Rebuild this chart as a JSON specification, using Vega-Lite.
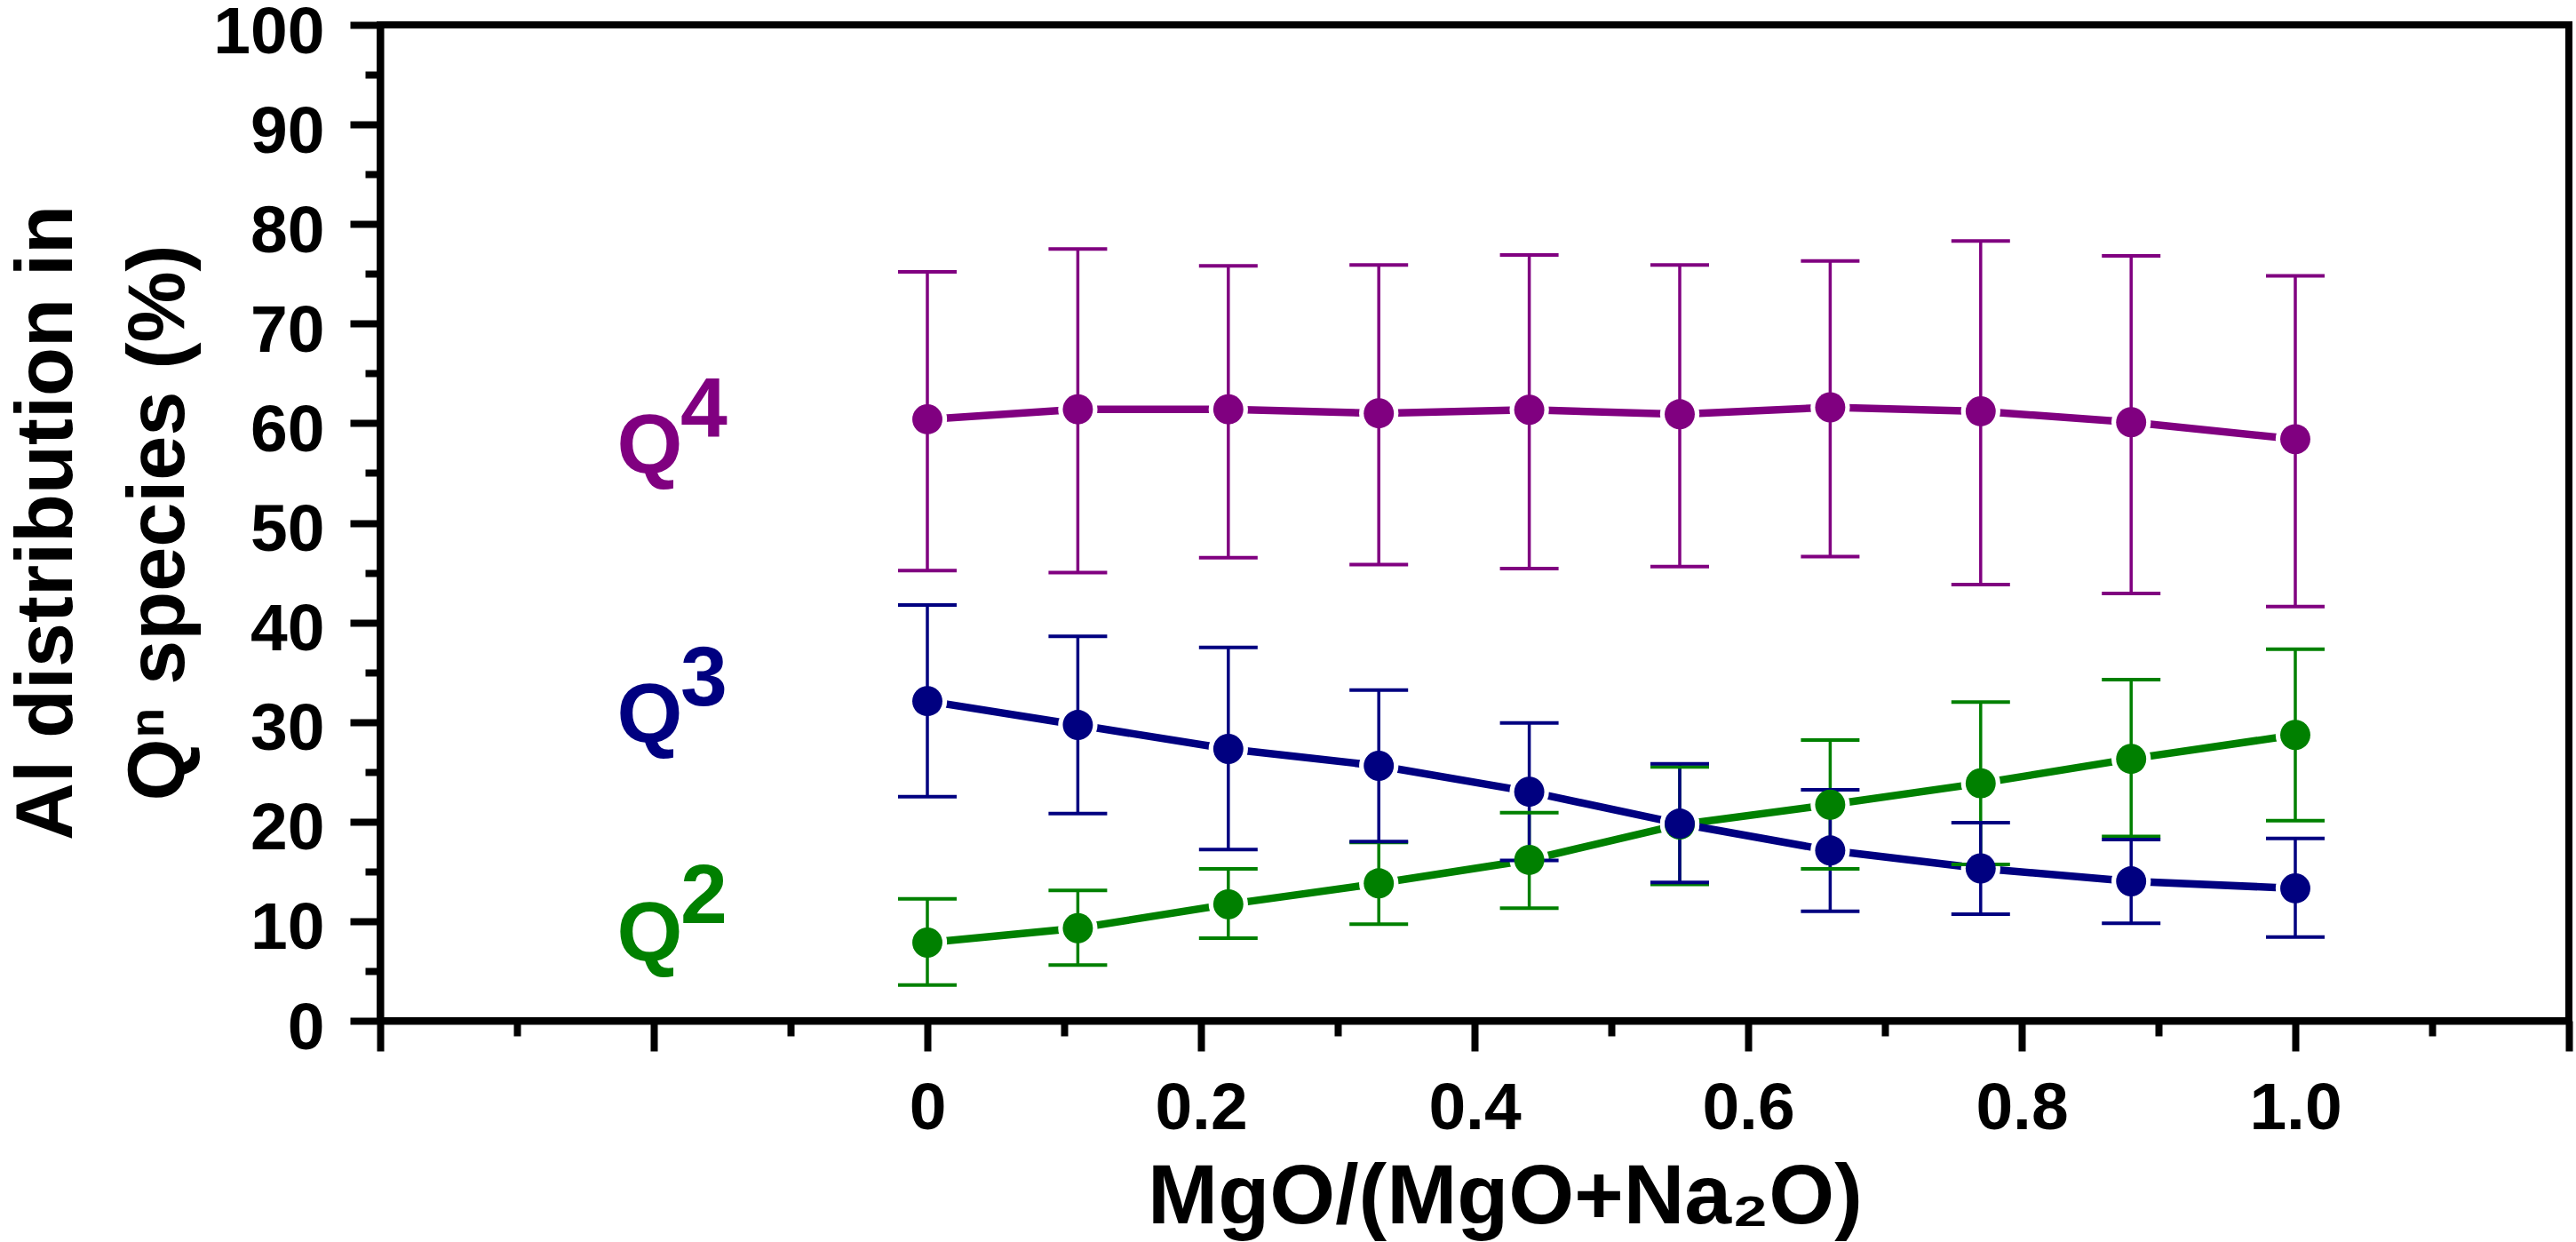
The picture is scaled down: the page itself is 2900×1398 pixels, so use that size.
{
  "$schema": "https://vega.github.io/schema/vega-lite/v6.json",
  "width": 2464,
  "height": 1121,
  "autosize": {"type": "none"},
  "padding": {"left": 428, "top": 28, "right": 8, "bottom": 249},
  "background": "white",
  "config": {
    "font": "Liberation Sans",
    "view": {"stroke": "black", "strokeWidth": 8},
    "axis": {
      "grid": false,
      "domainColor": "black",
      "domainWidth": 8,
      "tickColor": "black",
      "tickWidth": 8,
      "labelColor": "black",
      "labelFont": "Liberation Sans",
      "labelFontWeight": "bold",
      "labelFontSize": 75,
      "titleColor": "black",
      "titleFont": "Liberation Sans",
      "titleFontWeight": "bold"
    }
  },
  "datasets": {
    "pts": [
      {"s": "Q4", "x": 0, "y": 60.4, "lo": 45.2, "hi": 75.2},
      {"s": "Q4", "x": 0.11, "y": 61.4, "lo": 45.0, "hi": 77.5},
      {"s": "Q4", "x": 0.22, "y": 61.4, "lo": 46.5, "hi": 75.8},
      {"s": "Q4", "x": 0.33, "y": 61.0, "lo": 45.8, "hi": 75.9},
      {"s": "Q4", "x": 0.44, "y": 61.35, "lo": 45.4, "hi": 76.9},
      {"s": "Q4", "x": 0.55, "y": 60.9, "lo": 45.6, "hi": 75.9},
      {"s": "Q4", "x": 0.66, "y": 61.6, "lo": 46.6, "hi": 76.3},
      {"s": "Q4", "x": 0.77, "y": 61.2, "lo": 43.8, "hi": 78.3},
      {"s": "Q4", "x": 0.88, "y": 60.1, "lo": 42.9, "hi": 76.8},
      {"s": "Q4", "x": 1.0, "y": 58.4, "lo": 41.6, "hi": 74.8},
      {"s": "Q2", "x": 0, "y": 7.85, "lo": 3.6, "hi": 12.25},
      {"s": "Q2", "x": 0.11, "y": 9.3, "lo": 5.6, "hi": 13.1},
      {"s": "Q2", "x": 0.22, "y": 11.7, "lo": 8.3, "hi": 15.25},
      {"s": "Q2", "x": 0.33, "y": 13.8, "lo": 9.7, "hi": 17.9},
      {"s": "Q2", "x": 0.44, "y": 16.15, "lo": 11.3, "hi": 20.9},
      {"s": "Q2", "x": 0.55, "y": 19.7, "lo": 13.7, "hi": 25.5},
      {"s": "Q2", "x": 0.66, "y": 21.7, "lo": 15.25, "hi": 28.2},
      {"s": "Q2", "x": 0.77, "y": 23.85, "lo": 15.7, "hi": 32.0},
      {"s": "Q2", "x": 0.88, "y": 26.3, "lo": 18.5, "hi": 34.25},
      {"s": "Q2", "x": 1.0, "y": 28.7, "lo": 20.1, "hi": 37.3},
      {"s": "Q3", "x": 0, "y": 32.1, "lo": 22.5, "hi": 41.75},
      {"s": "Q3", "x": 0.11, "y": 29.7, "lo": 20.8, "hi": 38.6},
      {"s": "Q3", "x": 0.22, "y": 27.3, "lo": 17.2, "hi": 37.5},
      {"s": "Q3", "x": 0.33, "y": 25.6, "lo": 18.0, "hi": 33.2},
      {"s": "Q3", "x": 0.44, "y": 23.0, "lo": 16.1, "hi": 29.9},
      {"s": "Q3", "x": 0.55, "y": 19.8, "lo": 13.9, "hi": 25.8},
      {"s": "Q3", "x": 0.66, "y": 17.1, "lo": 11.0, "hi": 23.2},
      {"s": "Q3", "x": 0.77, "y": 15.3, "lo": 10.7, "hi": 19.9},
      {"s": "Q3", "x": 0.88, "y": 14.0, "lo": 9.8, "hi": 18.2},
      {"s": "Q3", "x": 1.0, "y": 13.3, "lo": 8.4, "hi": 18.3}
    ],
    "labels": [
      {"s": "Q4", "t": "Q", "x": -0.227, "y": 55.0},
      {"s": "Q4", "t": "4", "x": -0.1805, "y": 58.7},
      {"s": "Q3", "t": "Q", "x": -0.227, "y": 28.0},
      {"s": "Q3", "t": "3", "x": -0.1805, "y": 31.7},
      {"s": "Q2", "t": "Q", "x": -0.227, "y": 6.1},
      {"s": "Q2", "t": "2", "x": -0.1805, "y": 9.8}
    ]
  },
  "resolve": {"axis": {"x": "independent", "y": "independent"}},
  "layer": [
    {
      "data": {"name": "pts"},
      "mark": {"type": "line", "strokeWidth": 8.5},
      "encoding": {
        "x": {
          "field": "x", "type": "quantitative",
          "scale": {"domain": [-0.4, 1.2], "nice": false, "zero": false},
          "axis": {
            "orient": "bottom",
            "values": [-0.4, -0.2, 0, 0.2, 0.4, 0.6, 0.8, 1.0, 1.2],
            "labelExpr": "datum.value < -0.01 || datum.value > 1.01 ? '' : (abs(datum.value) < 0.001 ? '0' : format(datum.value, '.1f'))",
            "tickSize": 34,
            "labelPadding": 28,
            "title": "MgO/(MgO+Na₂O)",
            "titleFontSize": 95,
            "titleBaseline": "alphabetic",
            "titleAlign": "center",
            "titleX": 1266,
            "titleY": 227
          }
        },
        "y": {
          "field": "y", "type": "quantitative",
          "scale": {"domain": [0, 100], "nice": false},
          "axis": {
            "orient": "left",
            "values": [0, 10, 20, 30, 40, 50, 60, 70, 80, 90, 100],
            "tickSize": 34,
            "labelPadding": 29,
            "labelOffset": 8,
            "title": ["Al distribution in", "Qⁿ species (%)"],
            "titleFontSize": 90,
            "titleLineHeight": 126,
            "titleAngle": -90,
            "titleBaseline": "alphabetic",
            "titleAlign": "center",
            "titleX": -348,
            "titleY": 560
          }
        },
        "color": {
          "field": "s", "type": "nominal",
          "scale": {"domain": ["Q4", "Q2", "Q3"], "range": ["#800080", "#008000", "#000080"]},
          "legend": null
        }
      }
    },
    {
      "data": {"name": "pts"},
      "mark": {"type": "point", "filled": true, "opacity": 1, "size": 1963, "color": "white"},
      "encoding": {
        "x": {
          "field": "x", "type": "quantitative",
          "axis": {
            "orient": "bottom",
            "values": [-0.3, -0.1, 0.1, 0.3, 0.5, 0.7, 0.9, 1.1],
            "tickSize": 17,
            "labels": false,
            "domain": false,
            "title": null
          }
        },
        "y": {
          "field": "y", "type": "quantitative",
          "axis": {
            "orient": "left",
            "values": [5, 15, 25, 35, 45, 55, 65, 75, 85, 95],
            "tickSize": 17,
            "labels": false,
            "domain": false,
            "title": null
          }
        }
      }
    },
    {
      "data": {"name": "pts"},
      "mark": {"type": "rule", "strokeWidth": 3.5},
      "encoding": {
        "x": {"field": "x", "type": "quantitative", "axis": null},
        "y": {"field": "lo", "type": "quantitative", "axis": null},
        "y2": {"field": "hi"},
        "color": {"field": "s", "type": "nominal", "legend": null}
      }
    },
    {
      "data": {"name": "pts"},
      "transform": [{"fold": ["lo", "hi"], "as": ["end", "v"]}],
      "mark": {"type": "tick", "orient": "horizontal", "size": 66, "thickness": 4, "opacity": 1},
      "encoding": {
        "x": {"field": "x", "type": "quantitative", "axis": null},
        "y": {"field": "v", "type": "quantitative", "axis": null},
        "color": {"field": "s", "type": "nominal", "legend": null}
      }
    },
    {
      "data": {"name": "pts"},
      "mark": {"type": "point", "filled": true, "opacity": 1, "size": 1150},
      "encoding": {
        "x": {"field": "x", "type": "quantitative", "axis": null},
        "y": {"field": "y", "type": "quantitative", "axis": null},
        "color": {"field": "s", "type": "nominal", "legend": null}
      }
    },
    {
      "data": {"name": "labels"},
      "mark": {"type": "text", "align": "left", "baseline": "alphabetic", "fontSize": 95, "fontWeight": "bold", "font": "Liberation Sans"},
      "encoding": {
        "x": {"field": "x", "type": "quantitative", "axis": null},
        "y": {"field": "y", "type": "quantitative", "axis": null},
        "text": {"field": "t"},
        "color": {"field": "s", "type": "nominal", "legend": null}
      }
    }
  ]
}
